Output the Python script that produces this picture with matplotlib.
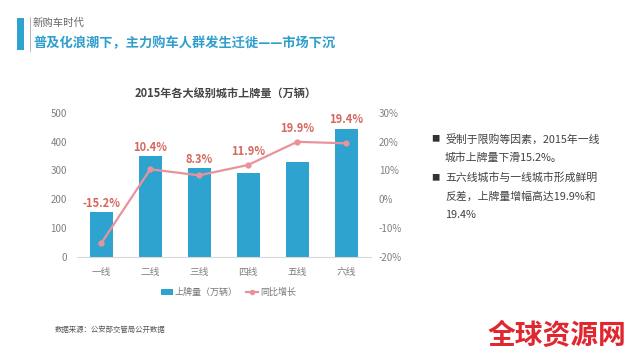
import matplotlib
matplotlib.use("Agg")
import matplotlib.pyplot as plt
from matplotlib.patches import Rectangle, Patch
from matplotlib.lines import Line2D
import numpy as np

plt.rcParams['font.family'] = ['Noto Sans CJK SC', 'DejaVu Sans']

categories = ['一线', '二线', '三线', '四线', '五线', '六线']
plates = [155, 350, 308, 290, 328, 445]
growth = [-15.2, 10.4, 8.3, 11.9, 19.9, 19.4]
growth_labels = ['-15.2%', '10.4%', '8.3%', '11.9%', '19.9%', '19.4%']
left_ticks = [0, 100, 200, 300, 400, 500]
right_ticks = [-20, -10, 0, 10, 20, 30]

bar_color = '#2ea3cf'
line_color = '#e8939c'
label_color = '#d5675f'
tick_color = '#808080'

fig = plt.figure(figsize=(6.4, 3.6), dpi=100)
fig.patch.set_facecolor('white')

ax = fig.add_axes([0.120, 0.286, 0.459, 0.401])
x = np.arange(len(categories))
ax.bar(x, plates, width=0.47, color=bar_color, zorder=2)
ax.set_xlim(-0.5, len(categories) - 0.5)
ax.set_ylim(0, 500)
ax.set_yticks(left_ticks)
ax.set_yticklabels([str(t) for t in left_ticks])
ax.set_xticks(x)
ax.set_xticklabels(categories)
for s in ['top', 'right', 'left']:
    ax.spines[s].set_visible(False)
ax.spines['bottom'].set_color('#d9d9d9')
ax.tick_params(axis='both', length=0, colors=tick_color, labelsize=7)
ax.tick_params(axis='y', pad=7)
ax.tick_params(axis='x', pad=7)

ax2 = ax.twinx()
ax2.plot(x, growth, color=line_color, lw=1.6, marker='o', ms=3.5, zorder=3)
ax2.set_ylim(-20, 30)
ax2.set_yticks(right_ticks)
ax2.set_yticklabels([f'{t}%' for t in right_ticks])
for s in ['top', 'right', 'left', 'bottom']:
    ax2.spines[s].set_visible(False)
ax2.tick_params(axis='y', length=0, colors=tick_color, labelsize=7, pad=6)

# labels above whichever is higher: bar top or line point
for xi, p, g, lab in zip(x, plates, growth, growth_labels):
    disp_bar = ax.transData.transform((xi, p))[1]
    disp_line = ax2.transData.transform((xi, g))[1]
    if disp_line > disp_bar:
        ax2.annotate(lab, (xi, g), xytext=(0, 5), textcoords='offset points',
                     ha='center', va='bottom', color=label_color, fontsize=8, fontweight='bold')
    else:
        ax.annotate(lab, (xi, p), xytext=(0, 1.5), textcoords='offset points',
                    ha='center', va='bottom', color=label_color, fontsize=8, fontweight='bold')

fig.text(0.352, 0.742, '2015年各大级别城市上牌量（万辆）', ha='center', va='center',
         fontsize=8, fontweight='bold', color='#444444')

# legend
handles = [Patch(facecolor=bar_color), Line2D([0], [0], color=line_color, lw=1.6, marker='o', ms=3)]
leg = fig.legend(handles, ['上牌量（万辆）', '同比增长'], loc='center', bbox_to_anchor=(0.357, 0.188),
                 ncol=2, frameon=False, fontsize=6.5, handlelength=1.3, handleheight=0.6,
                 columnspacing=1.0, handletextpad=0.2)
for t in leg.get_texts():
    t.set_color('#777777')

# header
fig.add_artist(Rectangle((17 / 640, 1 - 50 / 360), 7 / 640, 32 / 360, transform=fig.transFigure,
                         color='#2ea3cf', lw=0))
fig.add_artist(Line2D([30 / 640, 30 / 640], [1 - 17 / 360, 1 - 51 / 360], transform=fig.transFigure,
                      color='#aaaaaa', lw=0.6))
fig.text(33 / 640, 1 - 23 / 360, '新购车时代', ha='left', va='center', fontsize=7.5, color='#666666')
fig.text(33 / 640, 1 - 43 / 360, '普及化浪潮下，主力购车人群发生迁徙——市场下沉', ha='left', va='center',
         fontsize=9.5, color='#2e9fcc', fontweight='bold')

# right bullets
bullet_lines = [
    (139, '受制于限购等因素，2015年一线', True),
    (158, '城市上牌量下滑15.2%。', False),
    (178, '五六线城市与一线城市形成鲜明', True),
    (197, '反差，上牌量增幅高达19.9%和', False),
    (215, '19.4%', False),
]
for yy, txt, bullet in bullet_lines:
    if bullet:
        fig.text(431 / 640, 1 - yy / 360, '■', ha='left', va='center', fontsize=6, color='#333333')
    fig.text(445 / 640, 1 - yy / 360, txt, ha='left', va='center', fontsize=7.8, color='#404040')

# source
fig.text(55 / 640, 1 - 330 / 360, '数据来源：公安部交管局公开数据', ha='left', va='center',
         fontsize=5.3, color='#555555')

# watermark
fig.text(557 / 640, 1 - 336 / 360, '全球资源网', ha='center', va='center', fontsize=20,
         fontweight='bold', color='#e0262e')

fig.savefig('out.png', dpi=100)
